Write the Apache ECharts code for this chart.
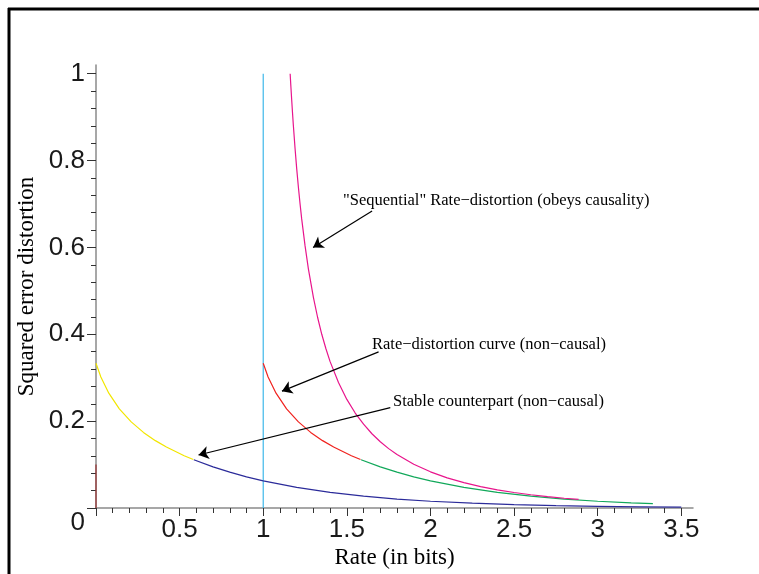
<!DOCTYPE html>
<html><head><meta charset="utf-8">
<script src="https://cdn.jsdelivr.net/npm/echarts@6/dist/echarts.min.js"></script>
<style>html,body{margin:0;padding:0;background:#fff}#c{width:759px;height:574px}</style>
</head><body><div id="c"></div>
<script>
// ---- tick values ----
const xMajorTicks = [0, 0.5, 1, 1.5, 2, 2.5, 3, 3.5];
const xLabelValues = [0.5, 1, 1.5, 2, 2.5, 3, 3.5];
const xMinorTicks = [0.1,0.2,0.3,0.4,0.6,0.7,0.8,0.9,1.1,1.2,1.3,1.4,1.6,1.7,1.8,1.9,2.1,2.2,2.3,2.4,2.6,2.7,2.8,2.9,3.1,3.2,3.3,3.4];
const yMajorTicks = [0, 0.2, 0.4, 0.6, 0.8, 1];
const yMinorTicks = [0.04,0.08,0.12,0.16,0.24,0.28,0.32,0.36,0.44,0.48,0.52,0.56,0.64,0.68,0.72,0.76,0.84,0.88,0.92,0.96];

// ---- curves: [rate, distortion] ----
const sequentialRD = [[1.161,1.0],[1.165,0.9726],[1.17,0.941],[1.175,0.9105],[1.18,0.882],[1.19,0.8295],[1.2,0.782],[1.21,0.7397],[1.22,0.701],[1.23,0.6656],[1.25,0.604],[1.27,0.5506],[1.3,0.485],[1.325,0.4392],[1.35,0.400],[1.375,0.3666],[1.4,0.337],[1.45,0.289],[1.5,0.25],[1.55,0.2186],[1.6,0.193],[1.65,0.171],[1.7,0.1525],[1.75,0.1367],[1.8,0.1231],[1.9,0.1007],[2.0,0.0833],[2.1,0.0695],[2.2,0.0584],[2.3,0.0494],[2.4,0.0419],[2.5,0.0357],[2.6,0.0305],[2.7,0.0262],[2.8,0.0225],[2.886,0.0197]];
const nonCausalHigh = [[1,0.3333],[1.0023,0.3303],[1.0291,0.3015],[1.0766,0.2643],[1.1396,0.2284],[1.2105,0.1983],[1.2837,0.1741],[1.355,0.1551],[1.4211,0.1403],[1.5273,0.1204],[1.5818,0.1116],[1.585,0.1111]];
const nonCausalLow = [[1.585,0.1111],[1.7,0.0947],[1.8,0.0825],[1.9,0.0718],[2.0,0.0625],[2.2,0.0474],[2.4,0.0359],[2.6,0.0272],[2.8,0.0206],[3.0,0.0156],[3.2,0.0118],[3.33,0.0099]];
const stableHigh = [[0,0.3333],[0.0023,0.3303],[0.0291,0.3015],[0.0766,0.2643],[0.1396,0.2284],[0.2105,0.1983],[0.2837,0.1741],[0.355,0.1551],[0.4211,0.1403],[0.5273,0.1204],[0.5818,0.1116],[0.585,0.1111]];
const stableLow = [[0.585,0.1111],[0.7,0.0947],[0.8,0.0825],[0.9,0.0718],[1.0,0.0625],[1.2,0.0474],[1.4,0.0359],[1.6,0.0272],[1.8,0.0206],[2.0,0.0156],[2.25,0.0110],[2.5,0.0078],[2.75,0.0055],[3.0,0.0039],[3.25,0.0028],[3.5,0.00195]];
const rateBound = [[1,0],[1,1]];
const zeroRate = [[0,0],[0,0.1]];

// ---- annotations ----
const annotationTexts = ['"Sequential" Rate\u2212distortion (obeys causality)', 'Rate\u2212distortion curve (non\u2212causal)', 'Stable counterpart (non\u2212causal)'];
const arrowFrom = [[1.651,0.684],[1.690,0.3594],[1.760,0.231]];
const arrowTo = [[1.298,0.600],[1.112,0.269],[0.613,0.122]];

const chart = echarts.init(document.getElementById('c'), null, {renderer:'canvas'});
const sans = '"Liberation Sans", Arial, Helvetica, sans-serif';
const serif = '"Liberation Serif", "Times New Roman", serif';
const XMAX = 3.57, YMAX = 1.02;

function lineSeries(name, data, color){
  return {name, type:'line', data, xAxisIndex:0, yAxisIndex:0, showSymbol:false, symbol:'none',
    smooth:false, lineStyle:{color, width:1.2}, silent:true, z:3};
}

const option = {
  animation:false,
  backgroundColor:'#fff',
  grid:{left:96, right:66, top:65, bottom:64, containLabel:false},
  xAxis:[
    {type:'value', min:0, max:XMAX, position:'bottom',
     axisLine:{show:true, lineStyle:{color:'#8a8a8a', width:1.5}},
     axisTick:{show:true, customValues:xMinorTicks, length:5, lineStyle:{color:'#333', width:1}},
     axisLabel:{show:false}, splitLine:{show:false},
     name:'Rate (in bits)', nameLocation:'middle', nameGap:38,
     nameTextStyle:{fontFamily:serif, fontSize:23, color:'#000'}},
    {type:'value', min:0, max:XMAX, position:'bottom',
     axisLine:{show:false},
     axisTick:{show:true, customValues:xMajorTicks, length:8, lineStyle:{color:'#333', width:1}},
     axisLabel:{show:true, customValues:xLabelValues, margin:9, fontFamily:sans, fontSize:26, color:'#1a1a1a',
       formatter:v=>String(v)},
     splitLine:{show:false}}
  ],
  yAxis:[
    {type:'value', min:0, max:YMAX, position:'left',
     axisLine:{show:true, lineStyle:{color:'#8a8a8a', width:1.5}},
     axisTick:{show:true, customValues:yMinorTicks, length:5, lineStyle:{color:'#333', width:1}},
     axisLabel:{show:false}, splitLine:{show:false},
     name:'Squared error distortion', nameLocation:'middle', nameGap:58, nameRotate:90,
     nameTextStyle:{fontFamily:serif, fontSize:23, color:'#000'}},
    {type:'value', min:0, max:YMAX, position:'left',
     axisLine:{show:false},
     axisTick:{show:true, customValues:yMajorTicks, length:9, lineStyle:{color:'#333', width:1}},
     axisLabel:{show:true, customValues:yMajorTicks, margin:11, fontFamily:sans, fontSize:26, color:'#1a1a1a',
       formatter:v=> v===0 ? '{z|0}' : String(v),
       rich:{z:{fontFamily:sans, fontSize:26, color:'#1a1a1a', padding:[30,0,0,0]}}},
     splitLine:{show:false}}
  ],
  series:[
    lineSeries('Zero rate', zeroRate, '#993333'),
    lineSeries('Rate bound', rateBound, '#3fb8ea'),
    lineSeries('Stable counterpart (high)', stableHigh, '#f2e600'),
    lineSeries('Stable counterpart (low)', stableLow, '#2b2b9a'),
    lineSeries('Rate-distortion (high)', nonCausalHigh, '#f0221e'),
    lineSeries('Rate-distortion (low)', nonCausalLow, '#11a85a'),
    lineSeries('Sequential', sequentialRD, '#e8158c'),
    {type:'line', data:[], xAxisIndex:0, yAxisIndex:0, silent:true,
     markLine:{silent:true, symbol:['none','arrow'], symbolSize:10, animation:false,
       label:{show:false}, emphasis:{disabled:true},
       lineStyle:{color:'#000', width:1.2, type:'solid'},
       data: arrowFrom.map((f,i)=>[{coord:f},{coord:arrowTo[i]}])}}
  ],
  graphic:[
    {type:'line', shape:{x1:9, y1:8, x2:9, y2:574}, style:{stroke:'#000', lineWidth:3}, silent:true},
    {type:'line', shape:{x1:8, y1:9, x2:759, y2:9}, style:{stroke:'#000', lineWidth:3}, silent:true},
    {type:'text', x:343, y:201, silent:true, style:{text:annotationTexts[0], font:'16.5px '+serif, fill:'#000', verticalAlign:'middle', align:'left'}},
    {type:'text', x:372, y:345, silent:true, style:{text:annotationTexts[1], font:'16.5px '+serif, fill:'#000', verticalAlign:'middle', align:'left'}},
    {type:'text', x:393, y:402, silent:true, style:{text:annotationTexts[2], font:'16.5px '+serif, fill:'#000', verticalAlign:'middle', align:'left'}}
  ]
};
chart.setOption(option);
</script></body></html>
